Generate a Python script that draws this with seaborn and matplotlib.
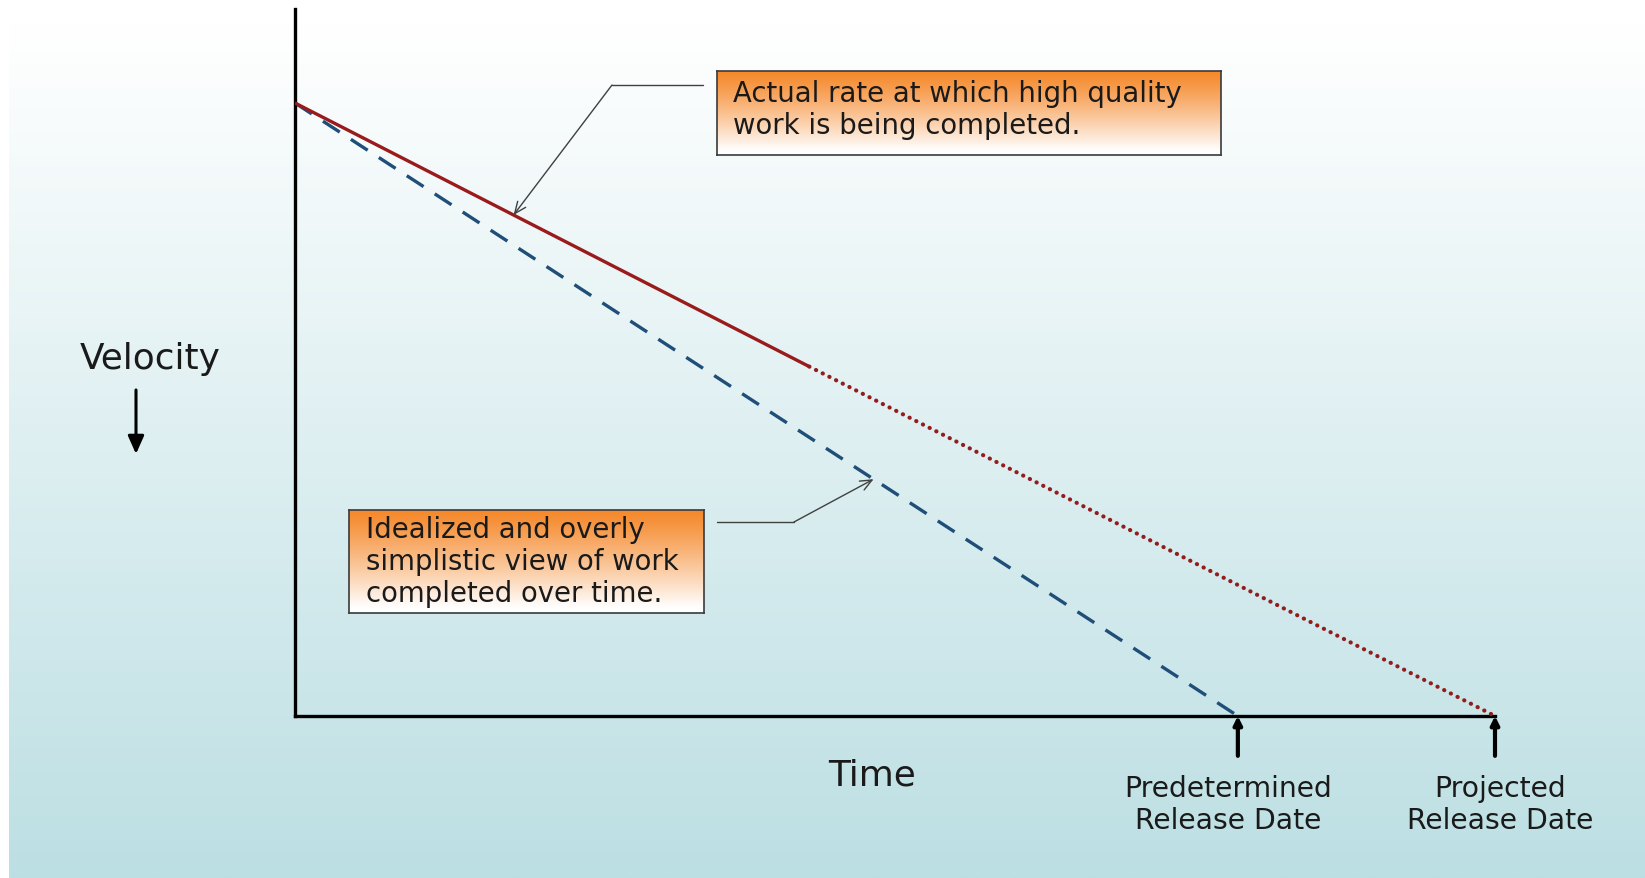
import numpy as np
import matplotlib.pyplot as plt
import matplotlib.transforms as mtransforms
from matplotlib.lines import Line2D
import seaborn as sns

# chart data (time in sprints, work remaining in %)
ideal_time = [0, 11]
ideal_work = [100, 0]
actual_time = [0, 6]
actual_work = [100, 57]
projected_time = [6, 14]
projected_work = [57, 0]
release_dates = [11, 14]
release_labels = ["Predetermined\nRelease Date", "Projected\nRelease Date"]
note_actual = "Actual rate at which high quality\nwork is being completed."
note_ideal = "Idealized and overly\nsimplistic view of work\ncompleted over time."
note_actual_at = 2.55   # time where the callout points on the actual line
note_ideal_at = 6.75    # time where the callout points on the ideal line

W, H = 1645, 879
sns.set_theme(style="white")
plt.rcParams['font.family'] = ['DejaVu Sans']
TXT = '#1a1a1a'

fig = plt.figure(figsize=(W / 100, H / 100), dpi=100)
fig.patch.set_facecolor('white')


def fx(px):
    return px / W


def fy(py):
    return 1 - py / H


# background gradient white -> pale teal
bg = fig.add_axes([0, 0, 1, 1], zorder=-10)
g = np.clip((np.linspace(0, 1, 300) - 0.03) / 0.97, 0, 1)[:, None, None]
top = np.array([1.0, 1.0, 1.0])
bottom = np.array([188, 223, 227]) / 255
bg.imshow(top + (bottom - top) * g, aspect='auto', extent=[fx(9), 1, 0, 1])
bg.set_xlim(0, 1)
bg.set_ylim(0, 1)
bg.axis('off')

# main axes
ax = fig.add_axes([fx(295), fy(717), fx(1495) - fx(295), (717 - 10) / H])
ax.patch.set_alpha(0)
ax.set_xlim(0, 14)
ax.set_ylim(0, 100 * 707 / 613)
ax.set_xticks([])
ax.set_yticks([])
sns.despine(ax=ax)
for s in ['left', 'bottom']:
    ax.spines[s].set_color('black')
    ax.spines[s].set_linewidth(2.4)

sns.lineplot(x=ideal_time, y=ideal_work, ax=ax, color='#1f4e79', lw=2.4,
             linestyle=(0, (6, 4)), zorder=2)
sns.lineplot(x=actual_time, y=actual_work, ax=ax, color='#9a1b1b', lw=2.4,
             solid_capstyle='butt', zorder=3)
sns.lineplot(x=projected_time, y=projected_work, ax=ax, color='#931c1c', lw=3.0,
             linestyle=(0, (0.05, 1.75)), dash_capstyle='round', zorder=3)

# release date arrows and labels
label_dx = [-0.11, 0.06]
blend = mtransforms.blended_transform_factory(ax.transData, fig.transFigure)
for d, lab, dx in zip(release_dates, release_labels, label_dx):
    ax.annotate('', xy=(d, 0), xytext=(d, -6.5),
                arrowprops=dict(arrowstyle='-|>,head_length=0.4,head_width=0.2',
                                color='black', lw=3, shrinkA=0, shrinkB=0),
                annotation_clip=False)
    ax.text(d + dx, fy(805), lab, transform=blend, ha='center', va='center',
            fontsize=20.3, color=TXT, linespacing=1.17, clip_on=False)

# axis captions
fig.text(fx(872), fy(775), 'Time', ha='center', va='center', fontsize=25.8, color=TXT)
fig.text(fx(150), fy(359), 'Velocity', ha='center', va='center', fontsize=25.8, color=TXT)
ax.annotate('', xy=(fx(136), fy(455)), xycoords='figure fraction',
            xytext=(fx(136), fy(391)), textcoords='figure fraction',
            arrowprops=dict(arrowstyle='-|>,head_length=0.9,head_width=0.4',
                            color='black', lw=2.2, shrinkA=0, shrinkB=0),
            annotation_clip=False)


def callout(x0, y0, x1, y1, text, tx, ty):
    box = fig.add_axes([fx(x0), fy(y1), fx(x1) - fx(x0), (y1 - y0) / H], zorder=5)
    t = np.clip(np.linspace(0, 1, 200) / 0.95, 0, 1) ** 1.15
    t = t[:, None, None]
    orange = np.array([245, 136, 42]) / 255
    white = np.array([1.0, 1.0, 1.0])
    box.imshow(orange + (white - orange) * t, aspect='auto', extent=[0, 1, 0, 1])
    box.set_xlim(0, 1)
    box.set_ylim(0, 1)
    box.set_xticks([])
    box.set_yticks([])
    for s in box.spines.values():
        s.set_visible(True)
        s.set_color('#3a3a3a')
        s.set_linewidth(1.2)
    box.text((tx - x0) / (x1 - x0), (y1 - ty) / (y1 - y0), text,
             transform=box.transAxes, ha='left', va='center',
             fontsize=19.8, color=TXT, linespacing=1.2)


callout(717, 72, 1221, 156, note_actual, 733, 110)
callout(349, 511, 704, 614, note_ideal, 366, 562)


def connector(p0, elbow, target):
    fig.add_artist(Line2D([fx(p0[0]), fx(elbow[0])], [fy(p0[1]), fy(elbow[1])],
                          color='#404040', lw=1.0, transform=fig.transFigure))
    ax.annotate('', xy=target, xycoords='data',
                xytext=(fx(elbow[0]), fy(elbow[1])), textcoords='figure fraction',
                arrowprops=dict(arrowstyle='->,head_length=0.7,head_width=0.3',
                                color='#404040', lw=1.0, shrinkA=0, shrinkB=0),
                annotation_clip=False)


connector((703, 86), (612, 86),
          (note_actual_at, np.interp(note_actual_at, actual_time, actual_work)))
connector((717, 523), (794, 523),
          (note_ideal_at, np.interp(note_ideal_at, ideal_time, ideal_work)))

fig.savefig('out.png', dpi=100)
